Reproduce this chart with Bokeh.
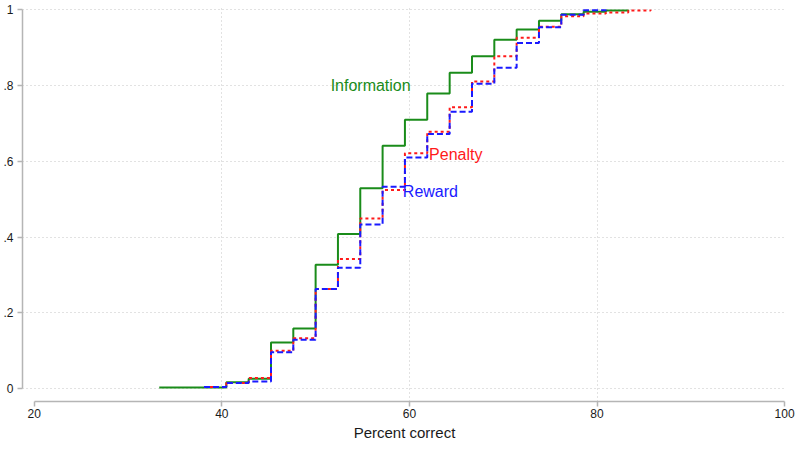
from bokeh.plotting import figure
from bokeh.models import Range1d, FixedTicker, CustomJSTickFormatter, Label
from bokeh.embed import file_html
from bokeh.resources import INLINE

# Percent correct (k/42 trials) and cumulative proportions
info_x = [33.33, 40.48, 42.86, 45.24, 47.62, 50.00, 52.38, 54.76, 57.14, 59.52,
          61.90, 64.29, 66.67, 69.05, 71.43, 73.81, 76.19, 78.57, 80.95, 83.33]
info_y = [0.003, 0.017, 0.026, 0.122, 0.159, 0.327, 0.408, 0.529, 0.641, 0.710,
          0.779, 0.834, 0.877, 0.921, 0.948, 0.971, 0.988, 0.995, 0.998, 1.000]

pen_x = [38.10, 40.48, 42.86, 45.24, 47.62, 50.00, 52.38, 54.76, 57.14, 59.52,
         61.90, 64.29, 66.67, 69.05, 71.43, 73.81, 76.19, 78.57, 80.95, 83.33, 85.71]
pen_y = [0.004, 0.015, 0.028, 0.100, 0.133, 0.263, 0.342, 0.449, 0.524, 0.621,
         0.678, 0.743, 0.811, 0.877, 0.926, 0.955, 0.983, 0.990, 0.993, 0.998, 1.000]

rew_x = [38.10, 40.48, 42.86, 45.24, 47.62, 50.00, 52.38, 54.76, 57.14, 59.52,
         61.90, 64.29, 66.67, 69.05, 71.43, 73.81, 76.19, 78.57, 80.95]
rew_y = [0.004, 0.015, 0.019, 0.096, 0.129, 0.263, 0.319, 0.433, 0.533, 0.610,
         0.672, 0.731, 0.805, 0.847, 0.912, 0.954, 0.987, 0.999, 1.000]

x_ticks = [20, 40, 60, 80, 100]
x_grid = [40, 60, 80]
y_ticks = [0, 0.2, 0.4, 0.6, 0.8, 1.0]

labels = [("Information", 51.6, 0.800, "#1a8c1a"),
          ("Penalty", 62.1, 0.619, "#ff1a1a"),
          ("Reward", 59.3, 0.521, "#1a1aff")]

FONT = "Liberation Sans"

p = figure(width=796, height=443, x_range=Range1d(18.75, 100.2), y_range=Range1d(-0.034, 1.006),
           output_backend="svg", toolbar_location=None,
           min_border_left=0, min_border_right=10, min_border_top=7, min_border_bottom=0)
p.outline_line_color = None
p.background_fill_color = "white"

for ax in (p.xaxis, p.yaxis):
    ax.axis_line_color = "#b5b5b5"
    ax.axis_line_width = 1.5
    ax.major_tick_line_color = "#b5b5b5"
    ax.major_tick_line_width = 1.5
    ax.major_tick_out = 5
    ax.major_tick_in = 0
    ax.minor_tick_line_color = None
    ax.major_label_text_font = FONT
    ax.major_label_text_font_size = "12px"
    ax.major_label_text_color = "#1a1a1a"

p.xaxis.ticker = FixedTicker(ticks=x_ticks)
p.xaxis.bounds = (20, 100)
p.xaxis.major_label_standoff = 2
p.xaxis.axis_label = "Percent correct"
p.xaxis.axis_label_text_font = FONT
p.xaxis.axis_label_text_font_size = "15px"
p.xaxis.axis_label_text_font_style = "normal"
p.xaxis.axis_label_text_color = "#1a1a1a"
p.xaxis.axis_label_standoff = 3

p.yaxis.ticker = FixedTicker(ticks=y_ticks)
p.yaxis.bounds = (0, 1)
p.yaxis.major_label_standoff = 4
p.yaxis.major_label_orientation = "horizontal"
p.yaxis.formatter = CustomJSTickFormatter(
    code="if (tick == 0) return '0'; if (tick == 1) return '1'; return tick.toFixed(1).replace(/^0/, '');")

p.xgrid.ticker = FixedTicker(ticks=x_grid)
p.ygrid.ticker = FixedTicker(ticks=y_ticks)
for g in (p.xgrid, p.ygrid):
    g.grid_line_color = "#c4c4c4"
    g.grid_line_dash = "1 3"
    g.grid_line_width = 1

p.step(info_x, info_y, mode="after", line_color="#1a8c1a", line_width=2)
p.step(pen_x, pen_y, mode="after", line_color="#ff1a1a", line_width=2, line_dash="3 3")
p.step(rew_x, rew_y, mode="after", line_color="#1a1aff", line_width=2, line_dash="6 3")

for txt, lx, ly, col in labels:
    p.add_layout(Label(x=lx, y=ly, text=txt, text_color=col, text_font=FONT,
                       text_font_size="16px", text_baseline="middle", text_align="left"))

open("out.html", "w").write(file_html(p, INLINE))
